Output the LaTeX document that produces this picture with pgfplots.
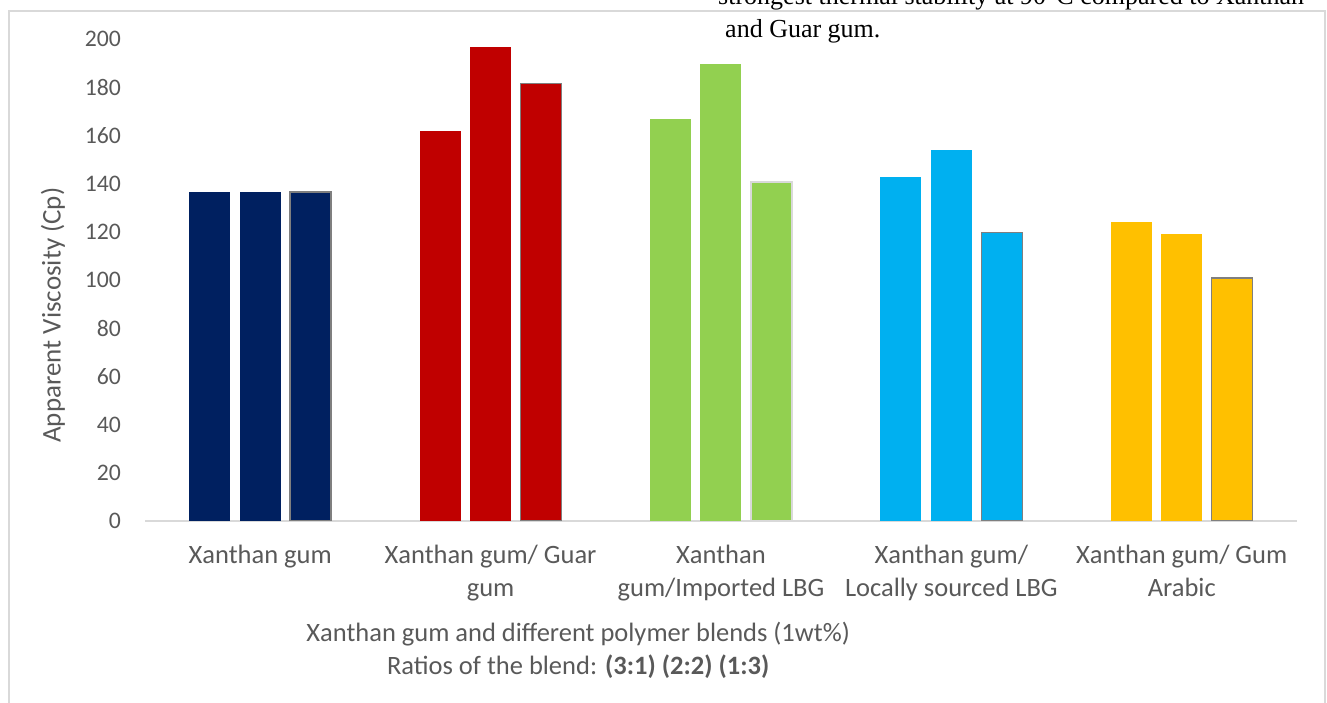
\documentclass[border=0pt]{standalone}
\usepackage{pgfplots}
\pgfplotsset{compat=1.18}
\usepackage{fontspec}
\setmainfont{Carlito}
\newfontfamily\timesfont{Liberation Serif}

\definecolor{xgNavy}{HTML}{002060}
\definecolor{xgRed}{HTML}{C00000}
\definecolor{xgGreen}{HTML}{92D050}
\definecolor{xgBlue}{HTML}{00B0F0}
\definecolor{xgGold}{HTML}{FFC000}
\definecolor{txtgray}{HTML}{595959}
\definecolor{framegray}{HTML}{D9D9D9}
\definecolor{edgegray}{HTML}{7F7F7F}

% one style per blend ratio: (3:1), (2:2), (1:3)
\pgfplotsset{
  r31/.style={ybar, bar width=0.178, bar shift=-0.219, draw=none},
  r22/.style={ybar, bar width=0.178, bar shift=0, draw=none},
  r13/.style={ybar, bar width=0.178, bar shift=0.219, draw=edgegray, line width=1.4pt},
}

\begin{document}
\begin{tikzpicture}[x=1pt,y=1pt]
\useasboundingbox (0,0) rectangle (1327,703);
\begin{scope}
  \clip (0,0) rectangle (1327,703);
  \draw[framegray, line width=2pt] (9,-20) -- (9,692) -- (1325,692) -- (1325,-20);
  \node[anchor=base west, inner sep=0, font=\timesfont\fontsize{26}{30}\selectfont]
    at (718,698) {strongest thermal stability at 90°C compared to Xanthan};
\end{scope}
\node[anchor=base west, inner sep=0, font=\timesfont\fontsize{26}{30}\selectfont]
  at (725,665) {and Guar gum.};

\begin{axis}[
  at={(145pt,182pt)}, anchor=south west,
  scale only axis, width=1152pt, height=482pt,
  xmin=-0.5, xmax=4.5, ymin=0, ymax=200,
  axis x line*=bottom, axis y line*=left,
  x axis line style={framegray, line width=1.5pt},
  y axis line style={draw=none},
  major tick length=0pt,
  ytick={0,20,...,200},
  xtick={0,1,2,3,4},
  xticklabels={{Xanthan gum},{Xanthan gum/ Guar\\gum},{Xanthan\\gum/Imported LBG},{Xanthan gum/\\Locally sourced LBG},{Xanthan gum/ Gum\\Arabic}},
  /pgf/number format/assume math mode=true,
  ticklabel style={text=txtgray, inner sep=0pt},
  yticklabel style={font=\fontsize{23.7}{28}\selectfont, anchor=east, xshift=-24pt},
  xticklabel style={font=\fontsize{26.5}{32.5}\selectfont, align=center, anchor=north, yshift=-24pt},
  label style={font=\fontsize{26.5}{32.5}\selectfont, text=txtgray},
  xlabel={Xanthan gum and different polymer blends (1wt\%)\\Ratios of the blend: \textbf{(3:1) (2:2) (1:3)}},
  xlabel style={at={(axis description cs:0.376,-0.268)}, anchor=center, align=center},
  ylabel={Apparent Viscosity (Cp)},
  ylabel style={font=\fontsize{27}{32}\selectfont, at={(axis description cs:-0.080,0.427)}, anchor=center},
]
% Xanthan gum
\addplot[r31, fill=xgNavy] coordinates {(0,136.5)};
\addplot[r22, fill=xgNavy] coordinates {(0,136.5)};
\addplot[r13, fill=xgNavy] coordinates {(0,136.5)};
% Xanthan gum / Guar gum
\addplot[r31, fill=xgRed] coordinates {(1,162)};
\addplot[r22, fill=xgRed] coordinates {(1,196.5)};
\addplot[r13, fill=xgRed] coordinates {(1,181.5)};
% Xanthan gum / Imported LBG
\addplot[r31, fill=xgGreen] coordinates {(2,167)};
\addplot[r22, fill=xgGreen] coordinates {(2,189.5)};
\addplot[r13, fill=xgGreen, draw=framegray] coordinates {(2,140.7)};
% Xanthan gum / Locally sourced LBG
\addplot[r31, fill=xgBlue] coordinates {(3,142.7)};
\addplot[r22, fill=xgBlue] coordinates {(3,154)};
\addplot[r13, fill=xgBlue] coordinates {(3,119.8)};
% Xanthan gum / Gum Arabic
\addplot[r31, fill=xgGold] coordinates {(4,124.2)};
\addplot[r22, fill=xgGold] coordinates {(4,119.2)};
\addplot[r13, fill=xgGold] coordinates {(4,100.8)};
\end{axis}
\end{tikzpicture}
\end{document}
